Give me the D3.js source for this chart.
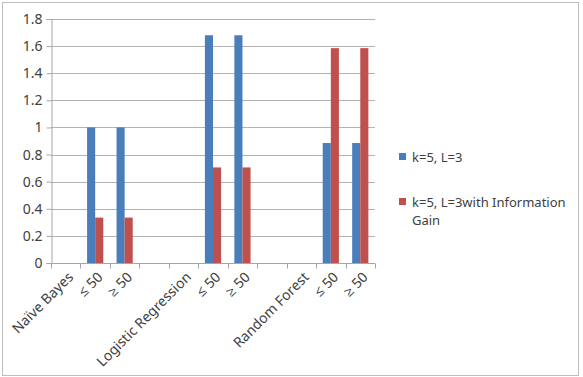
<!DOCTYPE html>
<html>
<head>
<meta charset="utf-8">
<script src="https://cdn.jsdelivr.net/npm/d3@7"></script>
<style>
  body { margin: 0; background: #fff; }
  text { font-family: "Noto Sans", "Open Sans", sans-serif; fill: #404040; }
</style>
</head>
<body>
<svg id="chart" width="583" height="377"></svg>
<script>
"use strict";

// categories along the x axis (blank slots separate the classifiers)
var categories = ["Naïve Bayes", "≤ 50", "≥ 50", "", "Logistic Regression", "≤ 50", "≥ 50", "", "Random Forest", "≤ 50", "≥ 50"];
var seriesNames = ["k=5, L=3", "k=5, L=3with Information Gain"];
var seriesColors = ["#4a7ebb", "#c0504d"];
// values per category, null where no bar is drawn
var baseValues = [null, 1.0, 1.0, null, null, 1.68, 1.68, null, null, 0.885, 0.885];
var infoGainValues = [null, 0.335, 0.335, null, null, 0.705, 0.705, null, null, 1.585, 1.585];
var yTicks = [0, 0.2, 0.4, 0.6, 0.8, 1, 1.2, 1.4, 1.6, 1.8];

var svg = d3.select("#chart");
var margin = {left: 51, right: 208, top: 19, bottom: 114};
var W = 583, H = 377;

// outer chart border
svg.append("rect")
  .attr("x", 2.5).attr("y", 2.5)
  .attr("width", 576).attr("height", 373)
  .attr("fill", "none").attr("stroke", "#bdbdbd");

var x = d3.scaleBand()
  .domain(d3.range(categories.length))
  .range([margin.left, W - margin.right])
  .padding(0);

var y = d3.scaleLinear()
  .domain([0, 1.8])
  .range([H - margin.bottom, margin.top]);

var series = [baseValues, infoGainValues];
var bw = x.bandwidth() * 0.275;

// gridlines
svg.append("g")
  .selectAll("line")
  .data(yTicks.slice(1))
  .enter().append("line")
  .attr("x1", margin.left).attr("x2", W - margin.right)
  .attr("y1", function(d) { return Math.round(y(d)) + 0.5; })
  .attr("y2", function(d) { return Math.round(y(d)) + 0.5; })
  .attr("stroke", "#b3b3b3");

// bars
series.forEach(function(vals, si) {
  svg.append("g")
    .selectAll("rect")
    .data(vals.map(function(v, i) { return {i: i, v: v}; }).filter(function(d) { return d.v != null; }))
    .enter().append("rect")
    .attr("x", function(d) { return x(d.i) + x.bandwidth() / 2 - bw + si * bw; })
    .attr("width", bw)
    .attr("y", function(d) { return y(d.v); })
    .attr("height", function(d) { return y(0) - y(d.v); })
    .attr("fill", seriesColors[si]);
});

// y axis
var yAxis = svg.append("g")
  .attr("transform", "translate(" + (margin.left + 0.5) + ",0)")
  .call(d3.axisLeft(y).tickValues(yTicks).tickSize(5).tickPadding(4)
    .tickFormat(function(d) { return d3.format("")(+d.toFixed(1)); }));
yAxis.select(".domain").attr("stroke", "#a6a6a6");
yAxis.selectAll(".tick line").attr("stroke", "#a6a6a6");
yAxis.selectAll("text").style("font-size", "14px").style("font-family", "Noto Sans").attr("fill", "#404040");

// x axis: line plus boundary ticks
var x0 = Math.round(y(0)) + 0.5;
svg.append("line")
  .attr("x1", margin.left).attr("x2", W - margin.right)
  .attr("y1", x0).attr("y2", x0)
  .attr("stroke", "#a6a6a6");
svg.append("g")
  .selectAll("line")
  .data(d3.range(categories.length + 1))
  .enter().append("line")
  .attr("x1", function(i) { return Math.round(margin.left + i * x.step()) + 0.5; })
  .attr("x2", function(i) { return Math.round(margin.left + i * x.step()) + 0.5; })
  .attr("y1", x0).attr("y2", x0 + 5)
  .attr("stroke", "#a6a6a6");

svg.append("g")
  .selectAll("text")
  .data(categories)
  .enter().append("text")
  .attr("transform", function(d, i) {
    return "translate(" + (x(i) + x.bandwidth() / 2 + 5) + "," + (x0 + 11) + ") rotate(-45)";
  })
  .attr("text-anchor", "end")
  .attr("dy", "0.35em")
  .style("font-size", "14px")
  .text(function(d) { return d; });

// legend
var legend = svg.append("g").attr("transform", "translate(399,0)");
var legendRows = [{y: 157, lines: ["k=5, L=3"]}, {y: 202, lines: ["k=5, L=3with Information", "Gain"]}];
legendRows.forEach(function(r, i) {
  legend.append("rect")
    .attr("x", 0).attr("y", r.y - 4)
    .attr("width", 7).attr("height", 7)
    .attr("fill", seriesColors[i]);
  var t = legend.append("text")
    .attr("x", 13).attr("y", r.y)
    .style("font-size", "13px");
  r.lines.forEach(function(line, j) {
    t.append("tspan").attr("x", 13).attr("dy", j === 0 ? "0.35em" : "1.4em").text(line);
  });
});
</script>
</body>
</html>
